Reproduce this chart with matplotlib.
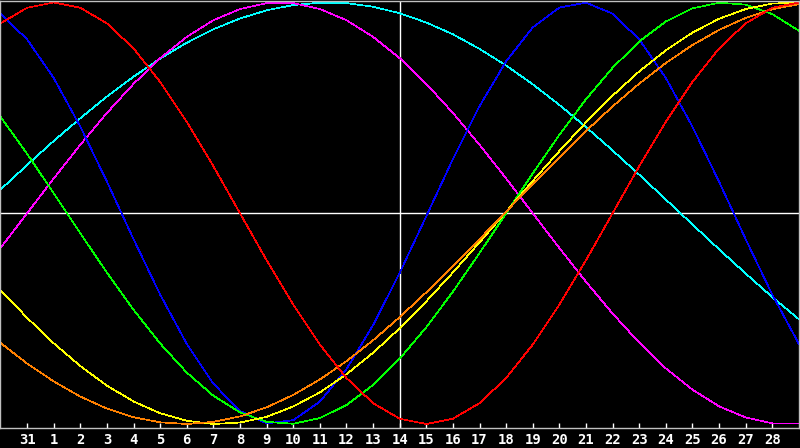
import matplotlib
matplotlib.use('Agg')
import matplotlib.pyplot as plt
import numpy as np

# Calendar days shown along the chart, one sample per day.
DAYS = [30, 31] + list(range(1, 30))

# Biorhythm values (-1 .. 1), one per day.
PHYSICAL = [0.947, 0.825, 0.642, 0.411, 0.150, -0.123, -0.386, -0.620,
            -0.809, -0.938, -0.997, -0.982, -0.894, -0.740, -0.531, -0.283,
            -0.014, 0.257, 0.508, 0.721, 0.882, 0.976, 0.999, 0.947,
            0.825, 0.642, 0.411, 0.150, -0.123, -0.386, -0.620]
EMOTIONAL = [0.901, 0.975, 1.000, 0.975, 0.901, 0.782, 0.623, 0.434,
             0.223, 0.000, -0.223, -0.434, -0.623, -0.782, -0.901, -0.975,
             -1.000, -0.975, -0.901, -0.782, -0.623, -0.434, -0.223, 0.000,
             0.223, 0.434, 0.623, 0.782, 0.901, 0.975, 1.000]
INTELLECTUAL = [0.458, 0.282, 0.095, -0.095, -0.282, -0.458, -0.618, -0.756,
                -0.866, -0.945, -0.990, -0.999, -0.972, -0.910, -0.815,
                -0.690, -0.541, -0.372, -0.189, 0.000, 0.189, 0.372, 0.541,
                0.690, 0.815, 0.910, 0.972, 0.999, 0.990, 0.945, 0.866]
INTUITIVE = [-0.165, 0.000, 0.165, 0.325, 0.476, 0.614, 0.736, 0.837,
             0.916, 0.969, 0.997, 0.997, 0.969, 0.916, 0.837, 0.736,
             0.614, 0.476, 0.325, 0.165, 0.000, -0.165, -0.325, -0.476,
             -0.614, -0.736, -0.837, -0.916, -0.969, -0.997, -0.997]
AESTHETIC = [-0.364, -0.496, -0.617, -0.725, -0.818, -0.893, -0.949, -0.985,
             -1.000, -0.993, -0.966, -0.917, -0.850, -0.764, -0.662, -0.546,
             -0.418, -0.281, -0.138, 0.007, 0.153, 0.295, 0.431, 0.558,
             0.673, 0.773, 0.857, 0.923, 0.969, 0.995, 0.999]
AWARENESS = [-0.615, -0.713, -0.798, -0.870, -0.927, -0.968, -0.992, -1.000,
             -0.990, -0.964, -0.921, -0.862, -0.789, -0.702, -0.603, -0.493,
             -0.375, -0.251, -0.123, 0.008, 0.138, 0.266, 0.390, 0.507,
             0.615, 0.713, 0.798, 0.870, 0.927, 0.968, 0.992]
SPIRITUAL = [0.112, 0.229, 0.343, 0.451, 0.554, 0.648, 0.734, 0.809,
             0.873, 0.924, 0.963, 0.988, 0.999, 0.997, 0.980, 0.949,
             0.905, 0.849, 0.780, 0.701, 0.612, 0.514, 0.409, 0.298,
             0.183, 0.065, -0.053, -0.171, -0.286, -0.398, -0.503]

# Day marked by the crosshair.
TODAY = 14

# Drawing order matters: later curves sit on top.
SERIES = [
    (SPIRITUAL, '#00ffff'),
    (INTUITIVE, '#ff00ff'),
    (PHYSICAL, '#0000ff'),
    (INTELLECTUAL, '#00ff00'),
    (AESTHETIC, '#ffff00'),
    (AWARENESS, '#ff8000'),
    (EMOTIONAL, '#ff0000'),
]


def main():
    fig = plt.figure(figsize=(8, 4.48), dpi=100, facecolor='black')
    # Plot area spans the whole width, leaving a strip for the day labels.
    ax = fig.add_axes([0.0006, 20 / 448, 0.998, 427.5 / 448])
    ax.set_facecolor('black')

    x = np.arange(len(DAYS))

    # Crosshair: today and the zero line.
    today_pos = DAYS.index(TODAY, 2)
    ax.axvline(today_pos, color='white', lw=1.0, zorder=1)
    ax.axhline(0, color='white', lw=1.0, zorder=1)

    for values, color in SERIES:
        ax.plot(x, values, color=color, lw=0.5, zorder=2,
                antialiased=False)

    ax.set_xlim(0, len(DAYS) - 1)
    ax.set_ylim(-1.019, 1.0095)

    ticks = x[1:-1]
    ax.set_xticks(ticks)
    ax.set_xticklabels([str(DAYS[i]) for i in ticks], color='white',
                       fontsize=10, fontweight='bold',
                       family='DejaVu Sans Mono')
    ax.tick_params(axis='x', direction='in', length=3.8, width=1,
                   color='white', pad=3.5)
    ax.set_yticks([])

    for spine in ax.spines.values():
        spine.set_color('#c0c0c0')
        spine.set_linewidth(1.0)

    fig.savefig('out.png', dpi=100, facecolor='black')
    plt.close(fig)


if __name__ == '__main__':
    main()
